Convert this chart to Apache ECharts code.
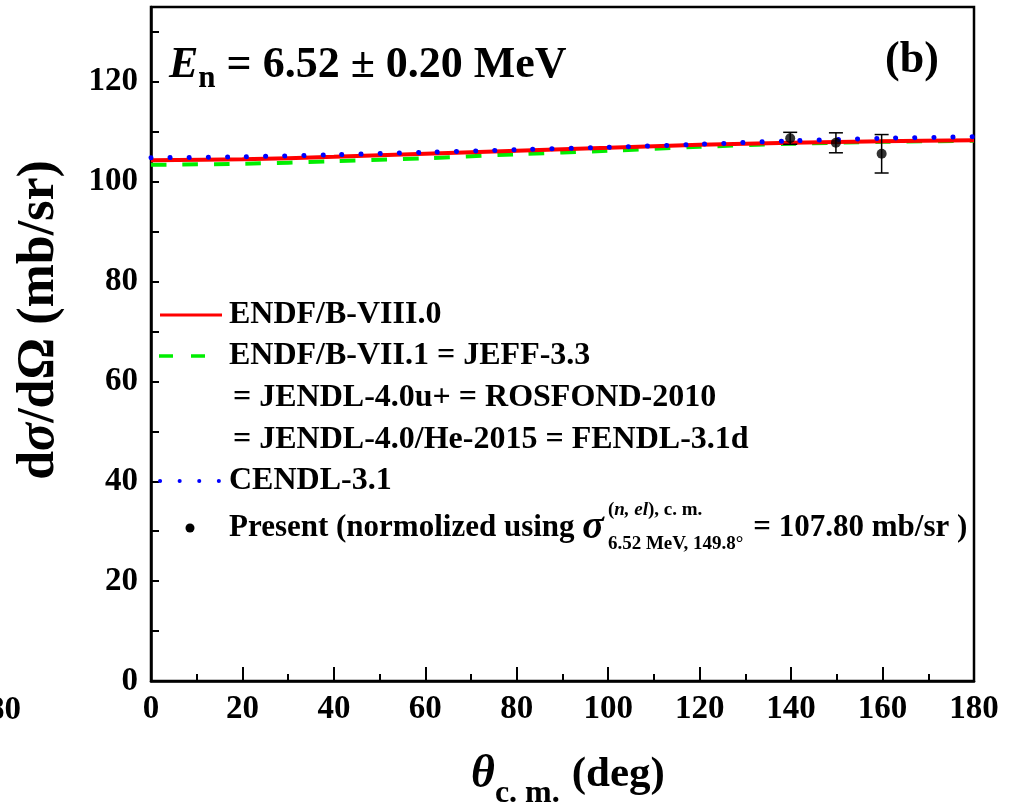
<!DOCTYPE html>
<html>
<head>
<meta charset="utf-8">
<script src="https://cdn.jsdelivr.net/npm/echarts@6/dist/echarts.min.js"></script>
<style>
  html, body { margin: 0; padding: 0; background: #fff; }
  #chart { width: 1019px; height: 809px; }
</style>
</head>
<body>
<div id="chart"></div>
<script>
// Angular distribution of elastic scattering, En = 6.52 MeV
const SERIF = '"Times New Roman", "Liberation Serif", serif';

// evaluated-library curves, sampled in centre-of-mass angle (deg)
const thetaGrid = [0, 20, 40, 60, 80, 100, 120, 140, 160, 180];
const endfB80   = [104.3, 104.5, 105.0, 105.6, 106.2, 106.8, 107.4, 107.8, 108.1, 108.3];
const endfB71   = [103.4, 103.6, 104.1, 104.7, 105.5, 106.2, 107.0, 107.6, 108.0, 108.2];
const cendl31   = [104.8, 105.0, 105.4, 105.9, 106.4, 106.9, 107.5, 108.2, 108.7, 109.0];

// measured points (normalized at 149.8 deg)
const presentTheta = [139.8, 149.8, 159.8];
const presentValue = [108.7, 107.80, 105.6];
const presentError = [1.2, 2.0, 3.85];

// axis ticks
const xTicks = [0, 20, 40, 60, 80, 100, 120, 140, 160, 180];
const yTicks = [0, 20, 40, 60, 80, 100, 120];

// legend texts
const legendLines = [
  'ENDF/B-VIII.0',
  'ENDF/B-VII.1 = JEFF-3.3',
  '= JENDL-4.0u+ = ROSFOND-2010',
  '= JENDL-4.0/He-2015 = FENDL-3.1d',
  'CENDL-3.1'
];

const ctx = document.createElement('canvas').getContext('2d');
function fontStr(p) {
  return (p.italic ? 'italic ' : 'normal ') + 'bold ' + p.size + 'px ' + SERIF;
}
function measure(p) {
  ctx.font = fontStr(p);
  return ctx.measureText(p.text).width;
}
// lay out a row of text pieces left to right;
// dy shifts sub/superscripts, mark/fromMark stack a subscript under a superscript
function textRun(x, y, pieces) {
  const out = [];
  let cx = x, mark = x, reach = x;
  pieces.forEach(function (p) {
    if (p.mark) { mark = cx; reach = cx; }
    if (p.fromMark) cx = mark;
    out.push({
      type: 'text', x: cx, y: y + (p.dy || 0), z: 50,
      style: {
        text: p.text, fill: '#000',
        fontFamily: SERIF, fontWeight: 'bold',
        fontStyle: p.italic ? 'italic' : 'normal',
        fontSize: p.size, align: 'left', verticalAlign: 'middle'
      }
    });
    cx += measure(p);
    reach = Math.max(reach, cx);
    if (p.endStack) cx = reach;
    cx += (p.gap || 0);
  });
  return out;
}

const line = (thetas, vals) => thetas.map((t, i) => [t, vals[i]]);

const graphics = [];
// panel title
graphics.push.apply(graphics, textRun(169, 66, [
  { text: 'E', size: 44, italic: true },
  { text: 'n', size: 31, dy: 13 },
  { text: ' = 6.52 ± 0.20 MeV', size: 44 }
]));
graphics.push({
  type: 'text', x: 912, y: 61, z: 50,
  style: { text: '(b)', fill: '#000', fontFamily: SERIF, fontWeight: 'bold', fontSize: 44, align: 'center', verticalAlign: 'middle' }
});
// y-axis title
graphics.push({
  type: 'text', x: 40, y: 320, rotation: Math.PI / 2, z: 50,
  style: {
    text: '{r|d}{i|σ}{r|/dΩ (mb/sr)}', fill: '#000', align: 'center', verticalAlign: 'middle',
    rich: {
      r: { fontFamily: SERIF, fontWeight: 'bold', fontSize: 52, fill: '#000' },
      i: { fontFamily: SERIF, fontWeight: 'bold', fontStyle: 'italic', fontSize: 52, fill: '#000' }
    }
  }
});
// x-axis title
graphics.push.apply(graphics, textRun(471, 775, [
  { text: 'θ', size: 46, italic: true },
  { text: 'c. m.', size: 32, dy: 19, gap: 12 },
  { text: '(deg)', size: 43 }
]));
// neighbouring tick label cut by the left edge
graphics.push({
  type: 'text', x: 21, y: 710, z: 50,
  style: { text: '180', fill: '#000', fontFamily: SERIF, fontWeight: 'bold', fontSize: 33, align: 'right', verticalAlign: 'middle' }
});

// legend
const legY = [315, 356, 398, 440, 481, 528];
graphics.push({ type: 'line', z: 50, shape: { x1: 160, y1: legY[0], x2: 222, y2: legY[0] }, style: { stroke: '#ff0000', lineWidth: 3 } });
graphics.push({ type: 'line', z: 50, shape: { x1: 159, y1: legY[1], x2: 208, y2: legY[1] }, style: { stroke: '#00ee00', lineWidth: 3.5, lineDash: [14, 18] } });
graphics.push({ type: 'line', z: 50, shape: { x1: 160, y1: legY[4], x2: 222, y2: legY[4] }, style: { stroke: '#0000ff', lineWidth: 4, lineDash: [0.1, 19.5], lineCap: 'round' } });
graphics.push({ type: 'circle', z: 50, shape: { cx: 190, cy: legY[5], r: 4.5 }, style: { fill: '#000' } });
legendLines.forEach(function (t, i) {
  const x = t.charAt(0) === '=' ? 233 : 229;
  graphics.push.apply(graphics, textRun(x, legY[i], [{ text: t, size: 32 }]));
});
graphics.push.apply(graphics, textRun(229, legY[5], [
  { text: 'Present (normolized using ', size: 31 },
  { text: 'σ', size: 40, italic: true, gap: 4 },
  { text: '(', size: 19, dy: -18, mark: true },
  { text: 'n, el', size: 19, italic: true, dy: -18 },
  { text: '), c. m.', size: 19, dy: -18 },
  { text: '6.52 MeV, 149.8°', size: 19, dy: 16, fromMark: true, endStack: true, gap: 10 },
  { text: '= 107.80 mb/sr )', size: 31 }
]));

const chart = echarts.init(document.getElementById('chart'), null, { renderer: 'canvas' });
chart.setOption({
  animation: false,
  backgroundColor: '#fff',
  grid: {
    left: 151, right: 45, top: 7, bottom: 128,
    show: true, borderColor: '#000', borderWidth: 2.5, backgroundColor: 'transparent'
  },
  xAxis: {
    type: 'value', min: 0, max: 180, interval: 20,
    axisLine: { show: true, onZero: false, lineStyle: { color: '#000', width: 2.5 } },
    axisTick: { show: true, inside: true, length: 14, lineStyle: { color: '#000', width: 2 } },
    minorTick: { show: true, splitNumber: 2, length: 7, lineStyle: { color: '#000', width: 2 } },
    splitLine: { show: false },
    axisLabel: {
      margin: 12, color: '#000', fontFamily: SERIF, fontWeight: 'bold', fontSize: 33,
      formatter: v => (xTicks.indexOf(v) >= 0 ? String(v) : '')
    }
  },
  yAxis: {
    type: 'value', min: 0, max: 135, interval: 10,
    axisLine: { show: true, onZero: false, lineStyle: { color: '#000', width: 2.5 } },
    axisTick: { show: true, inside: true, length: 8, lineStyle: { color: '#000', width: 2 } },
    splitLine: { show: false },
    axisLabel: {
      margin: 13, color: '#000', fontFamily: SERIF, fontWeight: 'bold', fontSize: 33,
      showMaxLabel: false,
      formatter: v => (yTicks.indexOf(v) >= 0 ? String(v) : '')
    }
  },
  graphic: graphics,
  series: [
    {
      name: 'ENDF/B-VII.1', type: 'line', data: line(thetaGrid, endfB71), smooth: 0.3,
      showSymbol: false, z: 2,
      lineStyle: { color: '#00ee00', width: 4, type: [15.5, 16] }
    },
    {
      name: 'ENDF/B-VIII.0', type: 'line', data: line(thetaGrid, endfB80), smooth: 0.3,
      showSymbol: false, z: 3,
      lineStyle: { color: '#ff0000', width: 4 }
    },
    {
      name: 'CENDL-3.1', type: 'line', data: line(thetaGrid, cendl31), smooth: 0.3,
      showSymbol: false, z: 4,
      lineStyle: { color: '#0000ff', width: 5, type: [0.1, 19], cap: 'round' }
    },
    {
      name: 'Present errors', type: 'custom', z: 5,
      data: presentTheta.map((t, i) => [t, presentValue[i], presentError[i]]),
      encode: { x: 0, y: 1 },
      renderItem: function (params, api) {
        const x = api.value(0), y = api.value(1), e = api.value(2);
        const top = api.coord([x, y + e]);
        const bot = api.coord([x, y - e]);
        const hw = 7;
        const st = { stroke: '#000', lineWidth: 1.5 };
        return {
          type: 'group',
          children: [
            { type: 'line', shape: { x1: top[0], y1: top[1], x2: bot[0], y2: bot[1] }, style: st },
            { type: 'line', shape: { x1: top[0] - hw, y1: top[1], x2: top[0] + hw, y2: top[1] }, style: st },
            { type: 'line', shape: { x1: bot[0] - hw, y1: bot[1], x2: bot[0] + hw, y2: bot[1] }, style: st }
          ]
        };
      }
    },
    {
      name: 'Present', type: 'scatter', z: 6,
      data: presentTheta.map((t, i) => [t, presentValue[i]]),
      symbol: 'circle', symbolSize: 10,
      itemStyle: { color: '#000' }
    }
  ]
});
</script>
</body>
</html>
